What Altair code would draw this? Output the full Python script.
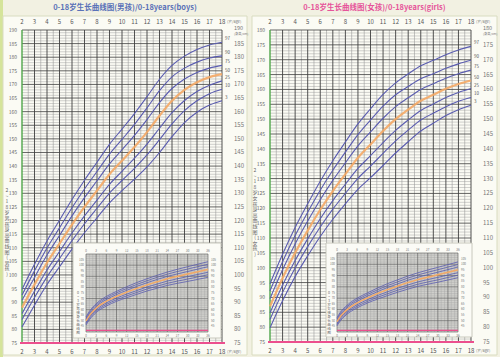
import altair as alt
import pandas as pd

# ---------------- data ----------------
AGES = [2, 3, 4, 5, 6, 7, 8, 9, 10, 11, 12, 13, 14, 15, 16, 17, 18]
PCT = ["3", "10", "25", "50", "75", "90", "97"]

BOYS = {
    "3":  [80.9, 88.9, 96.5, 103.0, 109.5, 115.5, 121.0, 126.5, 131.0, 135.2, 139.7, 145.0, 150.8, 156.0, 159.8, 162.4, 164.0],
    "10": [83.6, 91.7, 99.3, 106.0, 112.6, 118.8, 124.5, 130.1, 134.7, 139.2, 144.1, 149.7, 155.5, 160.4, 164.0, 166.6, 168.2],
    "25": [85.8, 94.0, 101.8, 108.6, 115.4, 121.7, 127.5, 133.3, 138.1, 142.9, 148.1, 153.9, 159.6, 164.1, 167.4, 169.7, 171.3],
    "50": [88.0, 96.5, 104.5, 111.5, 118.5, 125.0, 131.0, 137.0, 142.0, 147.0, 152.5, 158.5, 164.0, 168.0, 170.8, 172.7, 173.8],
    "75": [90.7, 99.1, 107.3, 114.5, 121.7, 128.4, 134.6, 140.8, 146.0, 151.3, 157.1, 163.3, 168.5, 172.0, 174.4, 176.0, 177.0],
    "90": [92.6, 101.5, 109.9, 117.3, 124.7, 131.6, 138.0, 144.4, 149.8, 155.3, 161.4, 167.7, 172.8, 176.0, 178.2, 179.7, 180.5],
    "97": [94.7, 103.9, 112.5, 120.1, 127.7, 134.8, 141.4, 148.0, 153.6, 159.3, 165.5, 171.9, 177.0, 180.4, 182.8, 184.5, 185.5],
}
GIRLS = {
    "3":  [79.8, 88.9, 97.0, 104.0, 110.5, 116.3, 121.5, 126.4, 130.3, 134.4, 138.6, 142.4, 146.0, 148.6, 151.2, 153.2, 154.7],
    "10": [82.6, 91.7, 99.9, 107.1, 113.7, 119.7, 125.0, 130.1, 134.2, 138.5, 142.7, 146.3, 149.7, 152.0, 154.2, 156.0, 157.3],
    "25": [84.8, 94.1, 102.4, 109.7, 116.5, 122.6, 128.1, 133.4, 137.7, 142.1, 146.2, 149.7, 152.9, 155.1, 157.3, 159.0, 160.3],
    "50": [87.0, 96.5, 105.0, 112.5, 119.5, 125.8, 131.5, 137.0, 141.5, 146.0, 150.0, 153.2, 156.2, 158.2, 160.2, 161.8, 163.0],
    "75": [89.6, 99.3, 108.0, 115.7, 122.9, 129.4, 135.3, 141.0, 145.7, 150.3, 154.2, 157.2, 160.0, 161.9, 163.8, 165.3, 166.5],
    "90": [92.2, 102.0, 110.8, 118.7, 126.1, 132.8, 138.9, 144.8, 149.7, 154.4, 158.2, 161.0, 163.6, 165.3, 167.1, 168.6, 169.8],
    "97": [94.6, 104.5, 113.5, 121.5, 129.1, 136.0, 142.3, 148.4, 153.5, 158.3, 162.2, 165.2, 168.0, 169.8, 171.7, 173.3, 174.5],
}

MONTHS = [0, 1, 2, 3, 4, 6, 9, 12, 15, 18, 21, 24, 30, 36]
BOYS_INSET = {
    "3":  [46.3, 50.9, 54.5, 57.5, 59.8, 63.3, 67.5, 70.8, 73.8, 76.8, 79.3, 81.8, 85.4, 89.1],
    "10": [47.5, 52.1, 55.7, 58.7, 61.1, 64.7, 68.9, 72.4, 75.5, 78.6, 81.1, 83.7, 87.5, 91.4],
    "25": [48.6, 53.4, 57.0, 60.0, 62.4, 66.1, 70.4, 74.0, 77.2, 80.4, 83.0, 85.7, 89.7, 93.6],
    "50": [49.9, 54.7, 58.4, 61.4, 63.9, 67.6, 72.0, 75.7, 79.1, 82.3, 85.1, 87.8, 92.0, 96.1],
    "75": [51.2, 56.0, 59.8, 62.8, 65.4, 69.1, 73.6, 77.4, 81.0, 84.2, 87.2, 89.9, 94.3, 98.6],
    "90": [52.3, 57.3, 61.1, 64.1, 66.7, 70.5, 75.1, 79.0, 82.7, 86.0, 89.1, 91.9, 96.5, 100.8],
    "97": [53.5, 58.5, 62.3, 65.3, 68.0, 71.9, 76.5, 80.6, 84.4, 87.8, 90.9, 93.8, 98.6, 103.1],
}
GIRLS_INSET = {
    "3":  [45.5, 49.9, 53.2, 55.9, 58.0, 61.4, 65.6, 69.1, 72.2, 75.2, 77.9, 80.4, 84.1, 88.1],
    "10": [46.7, 51.1, 54.4, 57.1, 59.3, 62.8, 67.0, 70.7, 73.9, 77.0, 79.7, 82.3, 86.2, 90.4],
    "25": [47.8, 52.4, 55.7, 58.4, 60.6, 64.2, 68.5, 72.3, 75.6, 78.8, 81.6, 84.3, 88.4, 92.6],
    "50": [49.1, 53.7, 57.1, 59.8, 62.1, 65.7, 70.1, 74.0, 77.5, 80.7, 83.7, 86.4, 90.7, 95.1],
    "75": [50.4, 55.0, 58.5, 61.2, 63.6, 67.2, 71.7, 75.7, 79.4, 82.6, 85.8, 88.5, 93.0, 97.6],
    "90": [51.5, 56.3, 59.8, 62.5, 64.9, 68.6, 73.2, 77.3, 81.1, 84.4, 87.7, 90.5, 95.2, 99.8],
    "97": [52.7, 57.5, 61.0, 63.7, 66.2, 70.0, 74.6, 78.9, 82.8, 86.2, 89.5, 92.4, 97.3, 102.1],
}

BOYS_TICKS = [75, 80, 85, 90, 95, 100, 105, 110, 115, 120, 125, 130, 135, 140, 145, 150, 155, 160, 165, 170, 175, 180, 185, 190]
GIRLS_TICKS = [75, 80, 85, 90, 95, 100, 105, 110, 115, 120, 125, 130, 135, 140, 145, 150, 155, 160, 165, 170, 175, 180]
INSET_TICKS = [45, 50, 55, 60, 65, 70, 75, 80, 85, 90, 95, 100, 105]
INSET_MONTH_TICKS = [0, 3, 6, 9, 12, 15, 18, 21, 24, 27, 30, 33, 36]

BOYS_TITLE = "0-18岁生长曲线图(男孩)/0-18years(boys)"
GIRLS_TITLE = "0-18岁生长曲线图(女孩)/0-18years(girls)"
BOYS_SIDE = "2~18岁男孩身高曲线图(男孩)"
GIRLS_SIDE = "2~18岁女孩身高曲线图(女孩)"
BOYS_INSET_SIDE = "0~3岁男孩身长曲线图"
GIRLS_INSET_SIDE = "0~3岁女孩身长曲线图"

# ---------------- style ----------------
BLUE = "#5a5cb0"
ORANGE = "#f4a865"
GRID_MINOR = "#9a9a9a"
GRID_MAJOR = "#3f3f3f"
FONT = "Noto Sans CJK SC"


def long_df(xs, table, xname):
    rows = []
    for p in PCT:
        for x, v in zip(xs, table[p]):
            rows.append({xname: x, "h": v, "pct": p})
    return pd.DataFrame(rows)


def panel(cfg):
    x0, x1 = cfg["xr"]
    ytop, ybot = cfg["yr"]
    ylo, yhi = cfg["ydom"]
    L = []

    def X(field="age"):
        return alt.X(f"{field}:Q", scale=alt.Scale(domain=[2, 18], range=[x0, x1], nice=False, zero=False), axis=None)

    def Y(field="h"):
        return alt.Y(f"{field}:Q", scale=alt.Scale(domain=[ylo, yhi], range=[ybot, ytop], nice=False, zero=False), axis=None)

    # panel background
    L.append(alt.Chart(pd.DataFrame({"a": [0]})).mark_rect(fill="#fbfbf4", stroke="#d9dcc0", strokeWidth=1).encode(
        x=alt.value(cfg["box"][0]), x2=alt.value(cfg["box"][2]), y=alt.value(cfg["box"][1]), y2=alt.value(cfg["box"][3])))

    # grid
    vminor = pd.DataFrame({"age": [a + 0.5 for a in range(2, 18)]})
    vmajor = pd.DataFrame({"age": list(range(3, 19))})
    hminor = pd.DataFrame({"h": [v for v in range(ylo, yhi + 1) if v % 5 != 0]})
    hmajor = pd.DataFrame({"h": [v for v in range(ylo + 5, yhi + 1, 5)]})
    L.append(alt.Chart(hminor).mark_rule(color=GRID_MINOR, strokeWidth=0.45).encode(y=Y(), x=alt.value(x0), x2=alt.value(x1)))
    L.append(alt.Chart(vminor).mark_rule(color=GRID_MINOR, strokeWidth=0.6).encode(x=X(), y=alt.value(ytop), y2=alt.value(ybot)))
    L.append(alt.Chart(hmajor).mark_rule(color=GRID_MAJOR, strokeWidth=0.8).encode(y=Y(), x=alt.value(x0), x2=alt.value(x1)))
    L.append(alt.Chart(vmajor).mark_rule(color=GRID_MAJOR, strokeWidth=0.9).encode(x=X(), y=alt.value(ytop), y2=alt.value(ybot)))
    # green left edge, pink base
    L.append(alt.Chart(pd.DataFrame({"age": [2]})).mark_rule(color="#4fa64a", strokeWidth=1.4).encode(
        x=X(), y=alt.value(ytop), y2=alt.value(ybot)))
    L.append(alt.Chart(pd.DataFrame({"h": [ylo]})).mark_rule(color="#ec4f8e", strokeWidth=2).encode(
        y=Y(), x=alt.value(x0 - 2), x2=alt.value(x1 + 3)))

    # curves
    df = long_df(AGES, cfg["data"], "age")
    L.append(alt.Chart(df[df.pct != "50"]).mark_line(interpolate="monotone", color=BLUE, strokeWidth=1.1).encode(
        x=X(), y=Y(), detail="pct:N"))
    L.append(alt.Chart(df[df.pct == "50"]).mark_line(interpolate="monotone", color=ORANGE, strokeWidth=2.2, opacity=0.9).encode(
        x=X(), y=Y()))
    # percentile labels at right end
    ends = df[df.age == 18]
    L.append(alt.Chart(ends).mark_text(fontSize=4.5, color="#555", align="left", dx=3, dy=-3, font=FONT).encode(
        x=X(), y=Y(), text="pct:N"))

    # axis labels
    ticks = pd.DataFrame({"h": cfg["ticks"]})
    L.append(alt.Chart(ticks).mark_text(fontSize=5, color="#666", align="right", font=FONT).encode(
        y=Y(), x=alt.value(x0 - 5), text="h:Q"))
    L.append(alt.Chart(ticks[ticks.h != yhi]).mark_text(fontSize=6, color="#777", align="left", font=FONT).encode(
        y=Y(), x=alt.value(x1 + 12), text="h:Q"))
    L.append(alt.Chart(ticks[ticks.h == yhi]).mark_text(fontSize=5.5, color="#777", align="left", dy=-2, font=FONT).encode(
        y=Y(), x=alt.value(x1 + 12), text="h:Q"))
    ages = pd.DataFrame({"age": AGES})
    L.append(alt.Chart(ages).mark_text(fontSize=6, color="#555", font=FONT).encode(
        x=X(), y=alt.value(ytop - 8), text="age:Q"))
    L.append(alt.Chart(ages).mark_text(fontSize=6, color="#555", font=FONT).encode(
        x=X(), y=alt.value(ybot + 9), text="age:Q"))
    L.append(alt.Chart(pd.DataFrame({"age": [18]})).mark_text(fontSize=3.8, color="#777", align="left", dx=5, font=FONT, text="(岁/age)").encode(
        x=X(), y=alt.value(ytop - 8)))
    L.append(alt.Chart(pd.DataFrame({"age": [18]})).mark_text(fontSize=3.8, color="#777", align="left", dx=5, font=FONT, text="(岁/age)").encode(
        x=X(), y=alt.value(ybot + 9)))
    L.append(alt.Chart(pd.DataFrame({"h": [yhi]})).mark_text(fontSize=3.2, color="#777", align="left", dy=4, font=FONT, text="(身高/cm)").encode(
        y=Y(), x=alt.value(x1 + 12)))

    # title
    L.append(alt.Chart(pd.DataFrame({"a": [0]})).mark_text(fontSize=7.5, fontWeight="bold", color=cfg["tcolor"], font=FONT, text=cfg["title"]).encode(
        x=alt.value((cfg["box"][0] + cfg["box"][2]) / 2), y=alt.value(8)))
    # vertical side text
    L.append(alt.Chart(pd.DataFrame({"a": [0]})).mark_text(fontSize=5, color="#666", font=FONT, lineHeight=5.6,
                                                           text=list(cfg["side"])).encode(
        x=alt.value(x0 - 15), y=alt.value(cfg["side_y"])))

    # ---------- inset ----------
    ib = cfg["inset_box"]
    ip = cfg["inset_plot"]

    def IX(field="m"):
        return alt.X(f"{field}:Q", scale=alt.Scale(domain=[0, 36], range=[ip[0], ip[2]], nice=False, zero=False), axis=None)

    def IY(field="h"):
        return alt.Y(f"{field}:Q", scale=alt.Scale(domain=[40, 110], range=[ip[3], ip[1]], nice=False, zero=False), axis=None)

    L.append(alt.Chart(pd.DataFrame({"a": [0]})).mark_rect(fill="#fbfbf6", stroke="#bdbdb0", strokeWidth=0.8).encode(
        x=alt.value(ib[0]), x2=alt.value(ib[2]), y=alt.value(ib[1]), y2=alt.value(ib[3])))
    L.append(alt.Chart(pd.DataFrame({"a": [0]})).mark_rect(fill="#cfcfcb").encode(
        x=alt.value(ip[0]), x2=alt.value(ip[2]), y=alt.value(ip[1]), y2=alt.value(ip[3])))
    imv = pd.DataFrame({"m": [m for m in range(0, 37) if m % 3 != 0]})
    iMv = pd.DataFrame({"m": INSET_MONTH_TICKS})
    imh = pd.DataFrame({"h": [v for v in range(40, 111, 2) if v % 10 != 0]})
    iMh = pd.DataFrame({"h": [v for v in range(40, 111, 10)]})
    L.append(alt.Chart(imh).mark_rule(color="#a5a5a5", strokeWidth=0.4).encode(y=IY(), x=alt.value(ip[0]), x2=alt.value(ip[2])))
    L.append(alt.Chart(imv).mark_rule(color="#a5a5a5", strokeWidth=0.4).encode(x=IX(), y=alt.value(ip[1]), y2=alt.value(ip[3])))
    L.append(alt.Chart(iMh).mark_rule(color="#555", strokeWidth=0.6).encode(y=IY(), x=alt.value(ip[0]), x2=alt.value(ip[2])))
    L.append(alt.Chart(iMv).mark_rule(color="#555", strokeWidth=0.6).encode(x=IX(), y=alt.value(ip[1]), y2=alt.value(ip[3])))
    L.append(alt.Chart(pd.DataFrame({"h": [41.5]})).mark_rule(color="#ec4f8e", strokeWidth=1.3).encode(
        y=IY(), x=alt.value(ip[0]), x2=alt.value(ip[2])))
    idf = long_df(MONTHS, cfg["inset"], "m")
    L.append(alt.Chart(idf[idf.pct != "50"]).mark_line(interpolate="monotone", color=BLUE, strokeWidth=0.8).encode(
        x=IX(), y=IY(), detail="pct:N"))
    L.append(alt.Chart(idf[idf.pct == "50"]).mark_line(interpolate="monotone", color=ORANGE, strokeWidth=1.4).encode(
        x=IX(), y=IY()))
    it = pd.DataFrame({"h": INSET_TICKS})
    L.append(alt.Chart(it).mark_text(fontSize=3, color="#777", align="right", font=FONT).encode(
        y=IY(), x=alt.value(ip[0] - 2), text="h:Q"))
    L.append(alt.Chart(it).mark_text(fontSize=3, color="#777", align="left", font=FONT).encode(
        y=IY(), x=alt.value(ip[2] + 3), text="h:Q"))
    im = pd.DataFrame({"m": INSET_MONTH_TICKS})
    L.append(alt.Chart(im).mark_text(fontSize=3, color="#777", font=FONT).encode(
        x=IX(), y=alt.value(ip[1] - 3), text="m:Q"))
    L.append(alt.Chart(im).mark_text(fontSize=3, color="#777", font=FONT).encode(
        x=IX(), y=alt.value(ip[3] + 4), text="m:Q"))
    L.append(alt.Chart(pd.DataFrame({"a": [0]})).mark_text(fontSize=3.6, color="#666", font=FONT, lineHeight=4,
                                                           text=list(cfg["inset_side"])).encode(
        x=alt.value(ip[0] - 8), y=alt.value((ip[1] + ip[3]) / 2)))
    return L


boys_cfg = dict(xr=(22, 222), yr=(30, 343), ydom=(75, 190), data=BOYS, ticks=BOYS_TICKS,
                box=(3, 16, 247, 355), title=BOYS_TITLE, tcolor="#5a72b8", side=BOYS_SIDE, side_y=190,
                inset_box=(73, 243, 221, 338), inset_plot=(86, 254, 208, 332), inset=BOYS_INSET,
                inset_side=BOYS_INSET_SIDE)
girls_cfg = dict(xr=(270, 471), yr=(30, 342), ydom=(75, 180), data=GIRLS, ticks=GIRLS_TICKS,
                 box=(252, 16, 497, 355), title=GIRLS_TITLE, tcolor="#e6559a", side=GIRLS_SIDE, side_y=170,
                 inset_box=(326, 243, 472, 337), inset_plot=(337, 253, 458, 332), inset=GIRLS_INSET,
                 inset_side=GIRLS_INSET_SIDE)

layers = panel(boys_cfg) + panel(girls_cfg)
left_strip = alt.Chart(pd.DataFrame({"a": [0]})).mark_rect(fill="#d5e49a").encode(
    x=alt.value(0), x2=alt.value(3), y=alt.value(0), y2=alt.value(357))

chart = alt.layer(left_strip, *layers).resolve_scale(x="independent", y="independent").properties(
    width=500, height=357, background="#f2f1e2", padding=0, autosize=alt.AutoSizeParams(type="none")
).configure_view(stroke=None)

chart.save("out.html", embed_options={"renderer": "svg", "actions": False})
